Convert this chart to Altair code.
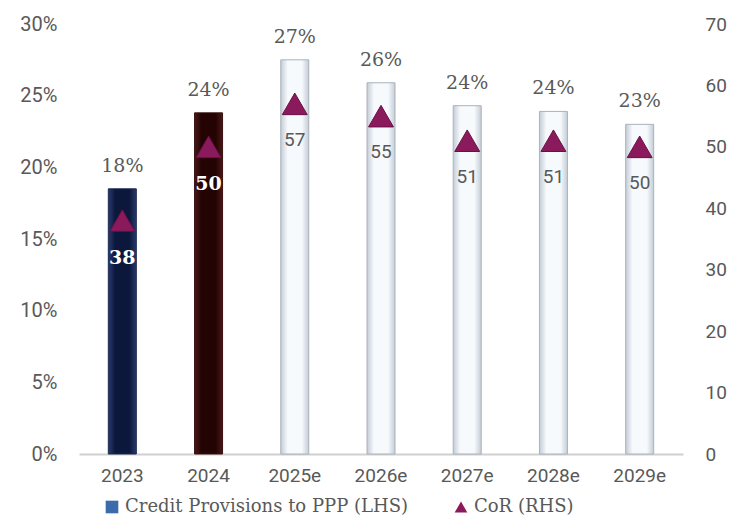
import altair as alt
import pandas as pd

years = ["2023", "2024", "2025e", "2026e", "2027e", "2028e", "2029e"]
provisions = [0.185, 0.238, 0.275, 0.259, 0.243, 0.239, 0.230]
prov_labels = ["18%", "24%", "27%", "26%", "24%", "24%", "23%"]
cor = [38, 50, 57, 55, 51, 51, 50]
groups = ["navy", "maroon", "light", "light", "light", "light", "light"]
left_ticks = [0, .05, .10, .15, .20, .25, .30]
right_ticks = [0, 10, 20, 30, 40, 50, 60, 70]

S1 = "Credit Provisions to PPP (LHS)"
S2 = "CoR (RHS)"

df = pd.DataFrame({
    "year": years, "prov": provisions, "plabel": prov_labels,
    "cor": cor, "group": groups,
    "s1": [S1] * len(years), "s2": [S2] * len(years),
})

GRAY = "#595959"
SANS = "Roboto"
SERIF = "DejaVu Serif"

x = alt.X("year:N", sort=years, title=None,
          scale=alt.Scale(paddingInner=0.675, paddingOuter=0.34),
          axis=alt.Axis(labelAngle=0, labelFont=SANS, labelFontSize=19,
                        labelColor=GRAY, ticks=False, domainColor="#d0d0d0",
                        domainWidth=2, labelPadding=12))

left_axis = alt.Axis(format=".0%", values=left_ticks,
                     grid=False, domain=False, ticks=False,
                     labelFont=SANS, labelFontSize=20, labelColor=GRAY,
                     labelPadding=22)
yl = alt.Y("prov:Q", title=None, scale=alt.Scale(domain=[0, 0.30]), axis=left_axis)

right_axis = alt.Axis(orient="right", values=right_ticks,
                      grid=False, domain=False, ticks=False,
                      labelFont=SANS, labelFontSize=19, labelColor=GRAY,
                      labelPadding=22)
yr = alt.Y("cor:Q", title=None, scale=alt.Scale(domain=[0, 70]), axis=right_axis)


def grad(edge, center):
    return alt.LinearGradient(
        gradient="linear", x1=0, x2=1, y1=0, y2=0,
        stops=[alt.GradientStop(offset=0, color=edge),
               alt.GradientStop(offset=0.25, color=center),
               alt.GradientStop(offset=0.75, color=center),
               alt.GradientStop(offset=1, color=edge)])


base = alt.Chart(df).encode(x=x)

bars_navy = base.transform_filter(alt.datum.group == "navy").mark_bar(
    size=28, color=grad("#2a3a6c", "#0b183c"), stroke="#1a2850", strokeWidth=1
).encode(y=yl)
bars_maroon = base.transform_filter(alt.datum.group == "maroon").mark_bar(
    size=28, color=grad("#4a1818", "#240303"), stroke="#3a1010", strokeWidth=1
).encode(y=yl)
bars_light = base.transform_filter(alt.datum.group == "light").mark_bar(
    size=28, color=grad("#c3ccd6", "#f7fafd"), stroke="#aab2bb", strokeWidth=1
).encode(y=yl)

prov_text = base.mark_text(font=SERIF, fontSize=19, color=GRAY,
                           baseline="bottom", dy=-13).encode(
    y=yl, text="plabel:N")

legend_scale_color = alt.Scale(domain=[S1, S2], range=["#3b6bab", "#8b1a5c"])
legend_scale_shape = alt.Scale(domain=[S1, S2], range=["square", "triangle-up"])
legend = alt.Legend(title=None, orient="none", direction="horizontal",
                    legendX=24, legendY=474,
                    labelFont=SERIF, labelFontSize=18, labelColor=GRAY,
                    labelLimit=0, symbolSize=160, symbolOpacity=1,
                    symbolStrokeWidth=0, columnPadding=44, labelOffset=4)

carrier = base.mark_point(filled=True, opacity=0, size=1).encode(
    y=yl,
    color=alt.Color("s1:N", scale=legend_scale_color, legend=legend),
    shape=alt.Shape("s1:N", scale=legend_scale_shape, legend=legend))

left = alt.layer(bars_navy, bars_maroon, bars_light, prov_text, carrier)

tri = base.mark_point(filled=True, size=620, opacity=1, stroke="#6a0f45",
                      strokeWidth=1).encode(
    y=yr,
    color=alt.Color("s2:N", scale=legend_scale_color, legend=legend),
    shape=alt.Shape("s2:N", scale=legend_scale_shape, legend=legend))

cor_dark = base.transform_filter(alt.datum.group != "light").mark_text(
    font=SERIF, fontSize=19, fontWeight="bold", color="white", dy=37,
    baseline="middle").encode(y=yr, text="cor:Q")
cor_light = base.transform_filter(alt.datum.group == "light").mark_text(
    font=SANS, fontSize=19, color=GRAY, dy=36, baseline="middle").encode(
    y=yr, text="cor:Q")

right = alt.layer(tri, cor_dark, cor_light)

chart = alt.layer(left, right).resolve_scale(y="independent").properties(
    width=604, height=430,
    background="white",
    autosize=alt.AutoSizeParams(type="none"),
    padding={"left": 71, "top": 16, "right": 45, "bottom": 62},
    view=alt.ViewBackground(stroke="transparent", strokeWidth=0),
).configure_view(stroke="transparent", strokeWidth=0)

chart.save("out.html", embed_options={"renderer": "svg", "actions": False})
